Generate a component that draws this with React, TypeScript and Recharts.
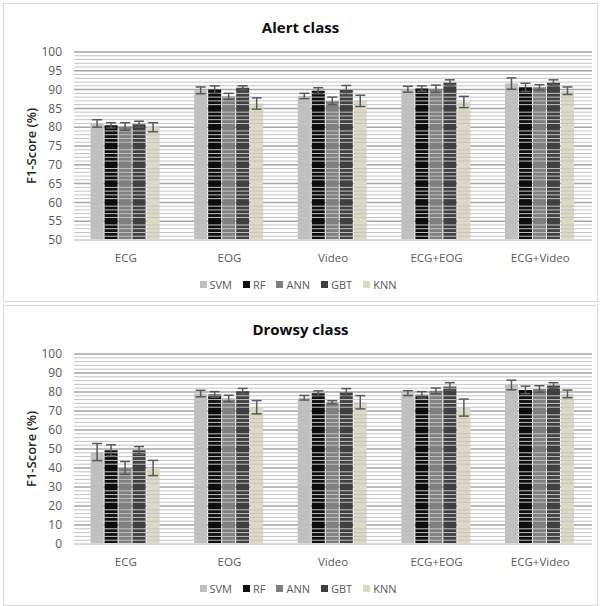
import React from 'react';
import {
  BarChart, Bar, XAxis, YAxis, CartesianGrid, Legend, ErrorBar, ReferenceLine,
} from 'recharts';

const categories = ['ECG', 'EOG', 'Video', 'ECG+EOG', 'ECG+Video'];
const models = ['SVM', 'RF', 'ANN', 'GBT', 'KNN'];

// Alert class F1 scores (per model, per category) and std errors
const alertSVM = [81.0, 89.8, 88.3, 90.1, 91.6];
const alertRF = [80.5, 90.0, 89.7, 90.3, 90.6];
const alertANN = [80.2, 88.2, 87.0, 90.2, 90.6];
const alertGBT = [80.8, 90.5, 89.9, 91.9, 91.9];
const alertKNN = [80.0, 86.3, 87.0, 86.7, 89.7];
const alertSVMErr = [1.0, 0.9, 0.7, 0.8, 1.5];
const alertRFErr = [0.7, 1.0, 0.8, 0.7, 1.1];
const alertANNErr = [1.0, 0.8, 1.0, 1.0, 0.7];
const alertGBTErr = [0.8, 0.5, 1.2, 0.7, 0.7];
const alertKNNErr = [1.2, 1.5, 1.5, 1.5, 1.0];

// Drowsy class
const drowsySVM = [48.4, 79.2, 77.0, 79.4, 83.7];
const drowsyRF = [49.3, 78.7, 79.4, 78.5, 81.1];
const drowsyANN = [40.0, 76.6, 74.6, 80.6, 81.6];
const drowsyGBT = [49.3, 80.4, 79.8, 82.9, 83.4];
const drowsyKNN = [40.0, 72.0, 74.6, 71.8, 79.0];
const drowsySVMErr = [4.5, 1.7, 1.2, 1.3, 2.5];
const drowsyRFErr = [2.9, 1.5, 1.2, 1.7, 2.0];
const drowsyANNErr = [3.4, 1.7, 0.8, 1.5, 1.7];
const drowsyGBTErr = [2.0, 1.5, 2.0, 2.0, 1.5];
const drowsyKNNErr = [4.0, 3.5, 3.5, 4.5, 2.0];

const alertTicks = [50, 55, 60, 65, 70, 75, 80, 85, 90, 95, 100];
const drowsyTicks = [0, 10, 20, 30, 40, 50, 60, 70, 80, 90, 100];

const COLORS = ['#bfbfbf', '#0d0d0d', '#7f7f7f', '#404040', '#ddd9c4'];
const FONT = '"Open Sans", "Noto Sans", sans-serif';

function buildRows(vals: number[][], errs: number[][]) {
  return categories.map((c, i) => {
    const row: Record<string, string | number> = { name: c };
    models.forEach((m, k) => {
      row[m] = vals[k][i];
      row[m + '_err'] = errs[k][i];
    });
    return row;
  });
}

function minorValues(min: number, max: number, step: number, major: number) {
  const out: number[] = [];
  for (let v = min + step; v < max; v += step) {
    if (Math.abs(v % major) > 1e-6) out.push(v);
  }
  return out;
}

function LegendRow() {
  return (
    <div
      style={{
        display: 'flex',
        justifyContent: 'center',
        gap: 11,
        paddingTop: 4,
        fontFamily: FONT,
        fontSize: 11,
        color: '#595959',
      }}
    >
      {models.map((m, k) => (
        <span key={m} style={{ display: 'inline-flex', alignItems: 'center' }}>
          <span style={{ width: 7, height: 7, background: COLORS[k], marginRight: 3, display: 'inline-block' }} />
          {m}
        </span>
      ))}
    </div>
  );
}

interface PanelProps {
  title: string;
  rows: Record<string, string | number>[];
  ticks: number[];
  minorStep: number;
  majorStep: number;
  height: number;
}

function Panel({ title, rows, ticks, minorStep, majorStep, height }: PanelProps) {
  const min = ticks[0];
  const max = ticks[ticks.length - 1];
  const minors = minorValues(min, max, minorStep, majorStep);
  return (
    <div
      style={{
        position: 'relative',
        width: 595,
        height,
        border: '1px solid #d9d9d9',
        boxSizing: 'border-box',
        background: '#fff',
      }}
    >
      <div
        style={{
          position: 'absolute',
          top: 13,
          left: 0,
          width: '100%',
          textAlign: 'center',
          fontFamily: FONT,
          fontWeight: 700,
          fontSize: 15,
          color: '#0d0d0d',
        }}
      >
        {title}
      </div>
      <BarChart
        width={593}
        height={height - 2}
        data={rows}
        margin={{ top: 48, right: 5, bottom: 4, left: 0 }}
        barCategoryGap="16%"
        barGap={1}
      >
        {minors.map((v) => (
          <ReferenceLine key={v} y={v} stroke="#c4c4c4" strokeWidth={1} />
        ))}
        <CartesianGrid vertical={false} stroke="#a6a6a6" strokeWidth={1.5} />
        <XAxis
          dataKey="name"
          axisLine={{ stroke: '#d9d9d9', strokeWidth: 2 }}
          tickLine={false}
          tickMargin={8}
          height={33}
          tick={{ fill: '#595959', fontSize: 11.5, fontFamily: FONT }}
        />
        <YAxis
          domain={[min, max]}
          ticks={ticks}
          interval={0}
          width={70}
          axisLine={false}
          tickLine={false}
          tickMargin={6}
          allowDataOverflow
          tick={{ fill: '#595959', fontSize: 12, fontFamily: FONT }}
          label={{
            value: 'F1-Score (%)',
            angle: -90,
            position: 'center',
            dx: -8,
            style: { fill: '#262626', fontSize: 13, fontFamily: FONT, fontWeight: 600 },
          }}
        />
        <Legend verticalAlign="bottom" height={24} content={() => <LegendRow />} />
        {models.map((m, k) => (
          <Bar key={m} dataKey={m} fill={COLORS[k]} isAnimationActive={false}>
            <ErrorBar dataKey={m + '_err'} width={5} stroke="#595959" strokeWidth={1.5} direction="y" />
          </Bar>
        ))}
      </BarChart>
    </div>
  );
}

export default function App() {
  const alertRows = buildRows(
    [alertSVM, alertRF, alertANN, alertGBT, alertKNN],
    [alertSVMErr, alertRFErr, alertANNErr, alertGBTErr, alertKNNErr],
  );
  const drowsyRows = buildRows(
    [drowsySVM, drowsyRF, drowsyANN, drowsyGBT, drowsyKNN],
    [drowsySVMErr, drowsyRFErr, drowsyANNErr, drowsyGBTErr, drowsyKNNErr],
  );
  return (
    <div style={{ position: 'absolute', left: 3, top: 3, width: 595, background: '#fff' }}>
      <Panel title="Alert class" rows={alertRows} ticks={alertTicks} minorStep={1} majorStep={5} height={299} />
      <div style={{ height: 3 }} />
      <Panel title="Drowsy class" rows={drowsyRows} ticks={drowsyTicks} minorStep={2} majorStep={10} height={301} />
    </div>
  );
}
